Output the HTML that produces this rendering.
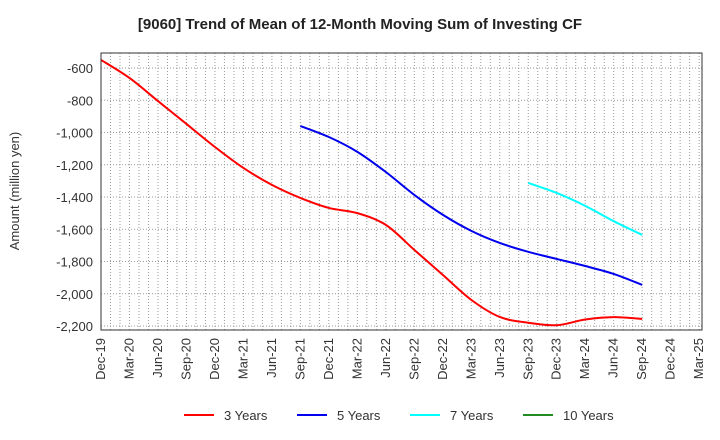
<!DOCTYPE html>
<html><head><meta charset="utf-8"><style>
body{margin:0;background:#fff;}
svg{display:block;font-family:"Liberation Sans",Arial,sans-serif;}
</style></head><body>
<svg id="chart" width="720" height="440">
<text x="360" y="29" text-anchor="middle" font-weight="bold" font-size="15" fill="#222">[9060]  Trend of Mean of 12-Month Moving Sum of Investing CF</text>
<text transform="translate(19,191) rotate(-90)" text-anchor="middle" font-size="13" fill="#333">Amount (million yen)</text>
<g id="grid"></g><g id="series"></g><g id="axes"></g><g id="legend"></g>
</svg>
<script>
const xLabels=["Dec-19","Mar-20","Jun-20","Sep-20","Dec-20","Mar-21","Jun-21","Sep-21","Dec-21","Mar-22","Jun-22","Sep-22","Dec-22","Mar-23","Jun-23","Sep-23","Dec-23","Mar-24","Jun-24","Sep-24","Dec-24","Mar-25"];
const yTicks=[-600,-800,-1000,-1200,-1400,-1600,-1800,-2000,-2200];
const s3Months=[0,3,6,9,12,15,18,21,24,27,30,33,36,39,42,45,48,51,54,57];
const s3=[-550,-662,-805,-947,-1090,-1220,-1325,-1406,-1468,-1500,-1573,-1728,-1883,-2038,-2144,-2180,-2195,-2160,-2145,-2156];
const s5Months=[21,24,27,30,33,36,39,42,45,48,51,54,57];
const s5=[-960,-1028,-1120,-1245,-1387,-1510,-1610,-1685,-1740,-1784,-1828,-1877,-1945];
const s7Months=[45,48,51,54,57];
const s7=[-1313,-1375,-1455,-1550,-1635];
const L=101,R=702,T=53,B=330;
const x=m=>L+m*(R-L)/63.3;
const y=v=>68+(-600-v)/1600*258;
const NS="http://www.w3.org/2000/svg";
function mk(tag,attrs,parent,text){const e=document.createElementNS(NS,tag);for(const k in attrs)e.setAttribute(k,attrs[k]);if(text!==undefined)e.textContent=text;document.getElementById(parent).appendChild(e);return e;}
for(let m=0;m<=63;m++){const g=mk("line",{x1:x(m),x2:x(m),y1:T,y2:B,stroke:"#999","stroke-dasharray":"1,2","stroke-width":1},"grid");

}
yTicks.forEach(v=>{const g=mk("line",{x1:L,x2:R,y1:y(v),y2:y(v),stroke:"#999","stroke-dasharray":"1,2"},"grid");


const t=mk("text",{x:L-8,y:y(v)+5,"text-anchor":"end","font-size":13,fill:"#333"},"axes",v.toLocaleString("en-US"));

});
xLabels.forEach((lab,i)=>{const px=x(i*3);const t=mk("text",{transform:`translate(${px+4},${B+8}) rotate(-90)`,"text-anchor":"end","font-size":13,fill:"#333"},"axes",lab);

});
const fr=mk("rect",{x:L,y:T,width:R-L,height:B-T,fill:"none",stroke:"#333","stroke-width":1},"axes");


function path(ms,vs){const p=ms.map((m,i)=>[x(m),y(vs[i])]);let d=`M${p[0][0]},${p[0][1]}`;
for(let i=0;i<p.length-1;i++){const p0=p[i-1]||p[i],p1=p[i],p2=p[i+1],p3=p[i+2]||p2;
d+=`C${p1[0]+(p2[0]-p0[0])/6},${p1[1]+(p2[1]-p0[1])/6} ${p2[0]-(p3[0]-p1[0])/6},${p2[1]-(p3[1]-p1[1])/6} ${p2[0]},${p2[1]}`;}return d;}
[[s3Months,s3,"#ff0000","line-3-years"],[s5Months,s5,"#0000ee","line-5-years"],[s7Months,s7,"#00ffff","line-7-years"]].forEach(([m,v,c,n])=>{
const e=mk("path",{d:path(m,v),fill:"none",stroke:c,"stroke-width":2},"series");

});
const leg=[["3 Years","#ff0000",184],["5 Years","#0000ee",297],["7 Years","#00ffff",410],["10 Years","#228b22",523]];
leg.forEach(([lab,c,lx])=>{const l=mk("line",{x1:lx,x2:lx+30,y1:415,y2:415,stroke:c,"stroke-width":2},"legend");


const t=mk("text",{x:lx+40,y:420,"font-size":13,fill:"#333"},"legend",lab);

});
</script>
</body></html>
